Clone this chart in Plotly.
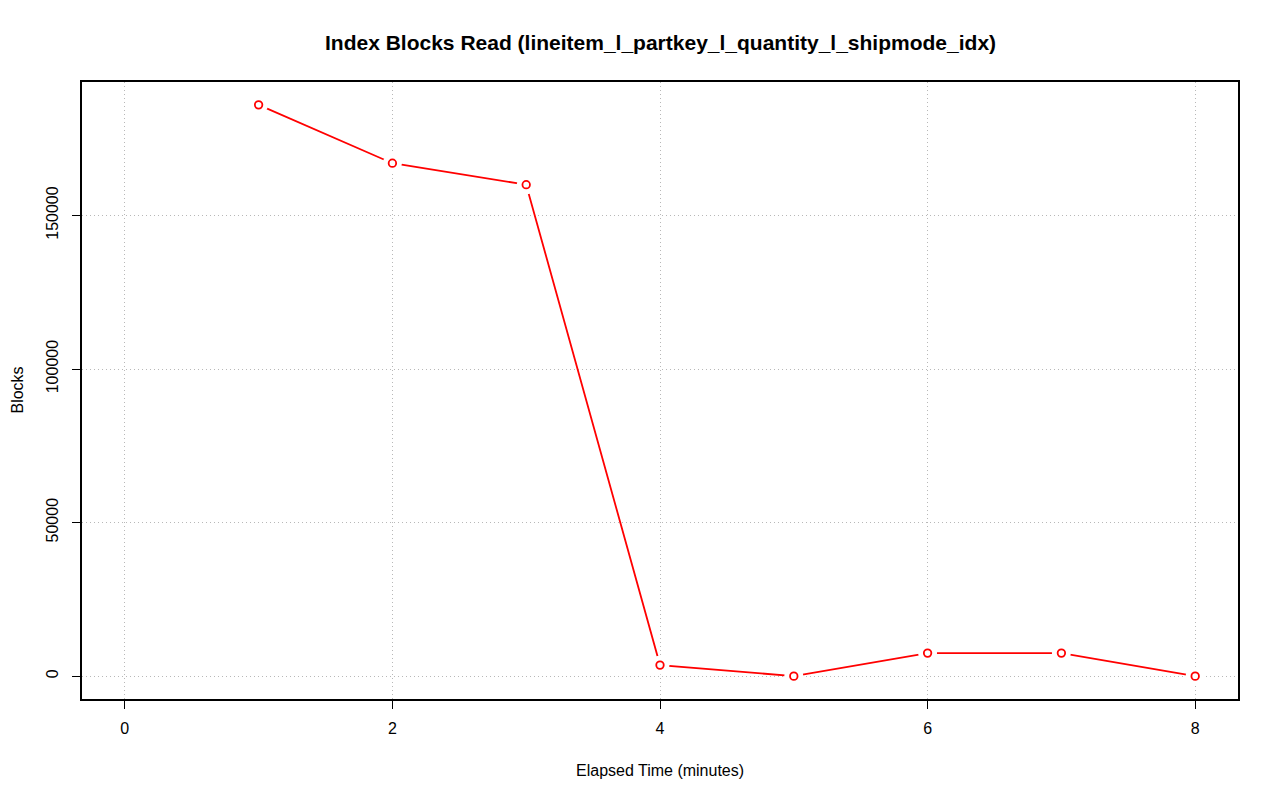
import plotly.graph_objects as go

# elapsed minutes and index blocks read (lineitem_l_partkey_l_quantity_l_shipmode_idx)
minutes = [1, 2, 3, 4, 5, 6, 7, 8]
blocks = [186000, 167000, 160000, 3600, 0, 7500, 7500, 0]

x_ticks = [0, 2, 4, 6, 8]
y_ticks = [0, 50000, 100000, 150000]

RED = '#ff0000'
FONT = 'Liberation Sans, Arial, sans-serif'

# plot box in the target picture (px); the page adds an 8px body margin
BOX_L, BOX_R, BOX_T, BOX_B = 82, 1238, 82, 699
PAGE_OFF = 8
BOX_W = BOX_R - BOX_L
BOX_H = BOX_B - BOX_T

fig = go.Figure()

# line first, then white halos to mimic R's type="b" gaps, then open circles
fig.add_trace(go.Scatter(
    x=minutes, y=blocks, mode='lines',
    line=dict(color=RED, width=1.8),
    hoverinfo='skip', showlegend=False,
))
fig.add_trace(go.Scatter(
    x=minutes, y=blocks, mode='markers',
    marker=dict(symbol='circle', size=19, color='white', line=dict(width=0)),
    hoverinfo='skip', showlegend=False,
))
fig.add_trace(go.Scatter(
    x=minutes, y=blocks, mode='markers',
    marker=dict(symbol='circle', size=7.5, color='white',
                line=dict(color=RED, width=1.8)),
    name='Blocks', showlegend=False,
))

axis_common = dict(
    showline=True, linecolor='black', linewidth=1.5, mirror=True,
    ticks='outside', ticklen=8, tickwidth=1, tickcolor='black',
    showgrid=True, gridcolor='#b8b8b8', griddash='1px,3px', gridwidth=1.3,
    zeroline=False, tickformat='d',
    tickfont=dict(family=FONT, size=16, color='black'),
)

fig.update_xaxes(range=[-0.32, 8.32], tickvals=x_ticks,
                 ticklabelstandoff=6, **axis_common)
fig.update_yaxes(range=[-7440, 193440], tickvals=y_ticks, tickangle=-90,
                 ticklabelstandoff=8, **axis_common)

label_font = dict(family=FONT, size=16, color='black')
fig.add_annotation(
    text='Elapsed Time (minutes)', xref='paper', yref='paper',
    x=0.5, y=-(770 - BOX_B) / BOX_H, xanchor='center', yanchor='middle',
    showarrow=False, font=label_font,
)
fig.add_annotation(
    text='Blocks', xref='paper', yref='paper', textangle=-90,
    x=-(BOX_L - 17) / BOX_W, y=0.5, xanchor='center', yanchor='middle',
    showarrow=False, font=label_font,
)
fig.add_annotation(
    text='<b>Index Blocks Read (lineitem_l_partkey_l_quantity_l_shipmode_idx)</b>',
    xref='paper', yref='paper',
    x=0.5, y=1 + (BOX_T - 43) / BOX_H, xanchor='center', yanchor='middle',
    showarrow=False, font=dict(family=FONT, size=21, color='black'),
)

fig.update_layout(
    width=1280, height=801,
    margin=dict(l=BOX_L - PAGE_OFF, r=1280 - BOX_R + PAGE_OFF,
                t=BOX_T - PAGE_OFF, b=801 - BOX_B + PAGE_OFF),
    paper_bgcolor='white', plot_bgcolor='white',
)

fig.write_html("out.html")
